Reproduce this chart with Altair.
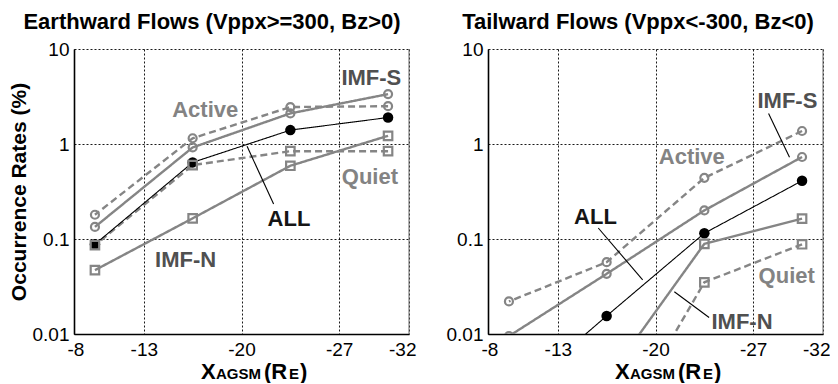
import altair as alt
import pandas as pd

# ---------------- data ----------------
x_bins = [-9.5, -16.5, -23.5, -30.5]
series_names = ["Active", "IMF-S", "ALL", "Quiet", "IMF-N"]

earth_active = [0.18, 1.15, 2.45, 2.5]
earth_imfs = [0.134, 0.92, 2.1, 3.35]
earth_all = [0.088, 0.64, 1.4, 1.9]
earth_quiet = [0.086, 0.6, 0.84, 0.84]
earth_imfn = [0.047, 0.165, 0.59, 1.22]

tail_active = [0.022, 0.057, 0.44, 1.37]
tail_imfs = [0.0095, 0.043, 0.2, 0.73]
tail_all = [0.002, 0.0155, 0.115, 0.41]
tail_quiet = [None, 0.0006, 0.035, 0.088]
tail_imfn = [None, 0.0033, 0.089, 0.164]

x_ticks = [-8, -13, -20, -27, -32]
y_ticks = [0.01, 0.1, 1, 10]

# annotation labels (text, x, y)
earth_labels = ["IMF-S", "Active", "Quiet", "ALL", "IMF-N"]
earth_label_x = [-29.3, -17.4, -29.2, -23.4, -16.0]
earth_label_y = [5.0, 2.26, 0.448, 0.162, 0.06]
earth_leader = [[-20.4, 0.946, -22.3, 0.233]]

tail_labels = ["IMF-S", "Active", "ALL", "Quiet", "IMF-N"]
tail_label_x = [-29.45, -22.6, -15.7, -29.4, -26.2]
tail_label_y = [2.87, 0.725, 0.17, 0.041, 0.0135]
tail_leader = [[-28.1, 2.1, -29.6, 0.725],
               [-15.9, 0.1306, -19.08, 0.0372],
               [-21.35, 0.0278, -23.84, 0.0149]]

# ---------------- style ----------------
W, H = 335, 285
FONT = "Liberation Sans"
GRAY = "#858585"
label_color = {"Active": "#838383", "Quiet": "#838383", "IMF-S": "#505050",
               "IMF-N": "#505050", "ALL": "#151515"}
series_style = {
    "Active": dict(color=GRAY, dash=[7, 4], width=2.4, shape="circle"),
    "IMF-S": dict(color=GRAY, dash=[1, 0], width=2.4, shape="circle"),
    "ALL": dict(color="#000000", dash=[1, 0], width=1.1, shape="circle"),
    "Quiet": dict(color=GRAY, dash=[7, 4], width=2.4, shape="square"),
    "IMF-N": dict(color=GRAY, dash=[1, 0], width=2.4, shape="square"),
}

xscale = alt.Scale(domain=[-8, -32], nice=False, zero=False)
yscale = alt.Scale(type="log", domain=[0.01, 10], nice=False)


def make_axes(ytitle):
    xax = alt.Axis(values=x_ticks, labelExpr="datum.value + ''", title=None,
                   grid=True, ticks=False, labelPadding=6, labelFlush=True,
                   labelFlushOffset=7)
    yax = alt.Axis(values=y_ticks, labelExpr="datum.value + ''",
                   title=ytitle if ytitle else None, grid=True, ticks=False,
                   labelPadding=5, titlePadding=3)
    return xax, yax


def panel(title, vals, labels, lx, ly, leaders, ytitle):
    rows = []
    for name, ys in zip(series_names, vals):
        for xv, yv in zip(x_bins, ys):
            if yv is not None:
                rows.append({"x": xv, "y": yv, "series": name})
    df = pd.DataFrame(rows)
    xax, yax = make_axes(ytitle)
    X = alt.X("x:Q", scale=xscale, axis=xax)
    Y = alt.Y("y:Q", scale=yscale, axis=yax)

    layers = []
    # lines: gray first, then black
    for name in ["Active", "IMF-S", "Quiet", "IMF-N", "ALL"]:
        st = series_style[name]
        layers.append(
            alt.Chart(df).transform_filter(alt.datum.series == name)
            .mark_line(color=st["color"], strokeWidth=st["width"],
                       strokeDash=st["dash"], clip=True)
            .encode(x=X, y=Y, order="x:Q")
        )
    # black filled markers
    layers.append(
        alt.Chart(df).transform_filter(alt.datum.series == "ALL")
        .mark_point(shape="circle", filled=True, color="#000000", size=110,
                    opacity=1, clip=True)
        .encode(x=X, y=Y)
    )
    # open gray markers
    for name in ["Active", "IMF-S", "Quiet", "IMF-N"]:
        st = series_style[name]
        sz = 64 if st["shape"] == "circle" else 72
        layers.append(
            alt.Chart(df).transform_filter(alt.datum.series == name)
            .mark_point(shape=st["shape"], filled=False, color=GRAY,
                        strokeWidth=2.2, size=sz, opacity=1, clip=True)
            .encode(x=X, y=Y)
        )
    # leader lines
    ld = pd.DataFrame(leaders, columns=["x", "y", "x2", "y2"])
    layers.append(
        alt.Chart(ld).mark_rule(color="#000000", strokeWidth=1.1)
        .encode(x=X, y=Y, x2="x2:Q", y2="y2:Q")
    )
    # text labels
    tdf = pd.DataFrame({"x": lx, "y": ly, "text": labels,
                        "c": [label_color[t] for t in labels]})
    layers.append(
        alt.Chart(tdf).mark_text(font=FONT, fontSize=22, fontWeight="bold",
                                 align="center", baseline="middle")
        .encode(x=X, y=Y, text="text:N", color=alt.Color("c:N", scale=None))
    )
    # right border
    layers.append(
        alt.Chart(alt.Data(values=[{}])).mark_rule(color="#666666", strokeWidth=1)
        .encode(x=alt.value(W), y=alt.value(0), y2=alt.value(H))
    )
    # composite x-axis title  X_AGSM (R_E)
    parts = [("X", 22, 127), ("AGSM", 15, 142), ("(R", 22, 190),
             ("E", 15, 215), (")", 22, 226)]
    for txt, fs, px in parts:
        layers.append(
            alt.Chart(alt.Data(values=[{}]))
            .mark_text(font=FONT, fontSize=fs, fontWeight="bold", align="left",
                       baseline="alphabetic", color="#000000")
            .encode(x=alt.value(px), y=alt.value(H + 45), text=alt.value(txt))
        )
    return alt.layer(*layers).properties(
        width=W, height=H,
        title=alt.TitleParams(title, fontSize=22, fontWeight="bold", font=FONT,
                              anchor="middle", frame="bounds", offset=6,
                              color="#000000"),
    )


left = panel("Earthward Flows (Vppx>=300, Bz>0)",
             [earth_active, earth_imfs, earth_all, earth_quiet, earth_imfn],
             earth_labels, earth_label_x, earth_label_y, earth_leader,
             "Occurrence Rates (%)")
right = panel("Tailward Flows (Vppx<-300, Bz<0)",
              [tail_active, tail_imfs, tail_all, tail_quiet, tail_imfn],
              tail_labels, tail_label_x, tail_label_y, tail_leader, None)

chart = (
    alt.hconcat(left, right, spacing=30)
    .properties(padding={"left": 0, "top": 3, "right": 0, "bottom": 0})
    .configure_view(stroke=None)
    .configure_axis(
        labelFont=FONT, labelFontSize=19, labelColor="#000000",
        titleFont=FONT, titleFontSize=21, titleFontWeight="bold",
        titleColor="#000000",
        domainColor="#000000", domainWidth=1.6,
        gridColor="#000000", gridDash=[2, 2], gridWidth=1, gridOpacity=0.9,
    )
)

chart.save("out.html", embed_options={"renderer": "svg", "actions": False})
